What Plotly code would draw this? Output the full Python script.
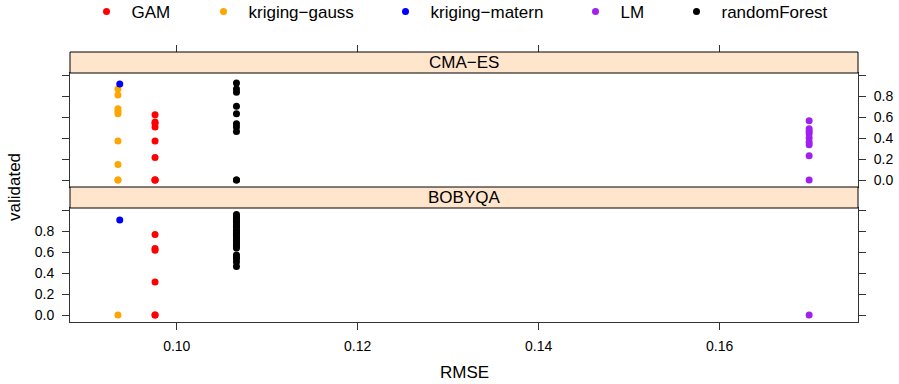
import plotly.graph_objects as go

# ---- data ----
methods = ["GAM", "kriging−gauss", "kriging−matern", "LM", "randomForest"]
colors = ["#FF0000", "#FFA500", "#0000FF", "#A020F0", "#000000"]
rmse = [0.0976, 0.0935, 0.0937, 0.1699, 0.1066]

# CMA-ES panel (validated values)
cma_gam = [0.623, 0.553, 0.543, 0.505, 0.373, 0.215, 0.0, 0.0, 0.0]
cma_kgauss = [0.869, 0.812, 0.680, 0.657, 0.632, 0.373, 0.149, 0.0, 0.0]
cma_kmatern = [0.916]
cma_lm = [0.566, 0.490, 0.465, 0.442, 0.401, 0.363, 0.338, 0.231, 0.0]
cma_rf = [0.926, 0.869, 0.837, 0.704, 0.632, 0.537, 0.505, 0.464, 0.0, 0.0]

# BOBYQA panel
bob_gam = [0.769, 0.636, 0.617, 0.315, 0.0, 0.0]
bob_kgauss = [0.0]
bob_kmatern = [0.907]
bob_lm = [0.0]
bob_rf = [0.959, 0.945, 0.93, 0.912, 0.895, 0.88, 0.862, 0.845, 0.83, 0.81,
          0.795, 0.78, 0.762, 0.745, 0.728, 0.71, 0.69, 0.672, 0.655, 0.64,
          0.574, 0.555, 0.536, 0.505, 0.463]

y_ticks = [0.0, 0.2, 0.4, 0.6, 0.8, 1.0]
y_ticktext = ["0.0", "0.2", "0.4", "0.6", "0.8", ""]
x_ticks = [0.10, 0.12, 0.14, 0.16]
x_ticktext = ["0.10", "0.12", "0.14", "0.16"]
panels = ["CMA−ES", "BOBYQA"]

cma = [cma_gam, cma_kgauss, cma_kmatern, cma_lm, cma_rf]
bob = [bob_gam, bob_kgauss, bob_kmatern, bob_lm, bob_rf]

# legend placement (pixel x of each key's symbol)
W, H = 899, 384
ML, MR, MT, MB = 70, 41, 52, 62
legend_px = [108, 225, 407, 597, 698]

fig = go.Figure()
FONT = "Liberation Sans, Arial, sans-serif"
legend_names = ["legend", "legend2", "legend3", "legend4", "legend5"]

for i, m in enumerate(methods):
    fig.add_trace(go.Scatter(
        x=[rmse[i]] * len(cma[i]), y=cma[i], mode="markers",
        marker=dict(color=colors[i], size=7), name=m, legendgroup=m,
        showlegend=True, legend=legend_names[i], xaxis="x2", yaxis="y2"))
    fig.add_trace(go.Scatter(
        x=[rmse[i]] * len(bob[i]), y=bob[i], mode="markers",
        marker=dict(color=colors[i], size=7), name=m, legendgroup=m,
        showlegend=False, xaxis="x", yaxis="y"))

xr = [0.0882, 0.1753]
yr = [-0.066, 1.021]
line_col = "#333333"
pw = W - ML - MR
ph = H - MT - MB

d_bot = [0.0, 114 / ph]
d_strip_bot = [114 / ph, 135 / ph]
d_top = [135 / ph, 249 / ph]
d_strip_top = [249 / ph, 1.0]

legend_y = (H - MB - 12) / ph
legends = {}
for i, ln in enumerate(legend_names):
    legends[ln] = dict(orientation="h", x=(legend_px[i] - 26.5 - ML) / pw, xanchor="left",
                       y=legend_y, yanchor="middle", font=dict(size=17),
                       itemsizing="trace", itemwidth=40,
                       bgcolor="rgba(0,0,0,0)", borderwidth=0)

fig.update_layout(
    width=W, height=H,
    margin=dict(l=ML, r=MR, t=MT, b=MB, autoexpand=False),
    plot_bgcolor="white", paper_bgcolor="white",
    font=dict(family=FONT, size=14, color="black"),
    showlegend=True,
    **legends,
    xaxis=dict(domain=[0, 1], range=xr, anchor="y", tickvals=x_ticks, ticktext=x_ticktext,
               ticks="outside", ticklen=7, tickcolor=line_col, showline=True, linecolor=line_col,
               mirror=True, showgrid=False, zeroline=False, tickfont=dict(size=14),
               ticklabelstandoff=4),
    yaxis=dict(domain=d_bot, range=yr, anchor="x", tickvals=y_ticks, ticktext=y_ticktext,
               ticks="outside", ticklen=7, tickcolor=line_col, showline=True, linecolor=line_col,
               mirror="ticks", showgrid=False, zeroline=False, side="left",
               tickfont=dict(size=14), ticklabelstandoff=5),
    xaxis2=dict(domain=[0, 1], range=xr, anchor="y2", matches="x", showticklabels=False,
                ticks="", showline=True, linecolor=line_col, mirror=True,
                showgrid=False, zeroline=False),
    yaxis2=dict(domain=d_top, range=yr, anchor="x2", tickvals=y_ticks, ticktext=y_ticktext,
                ticks="outside", ticklen=7, tickcolor=line_col, showline=True, linecolor=line_col,
                mirror="ticks", showgrid=False, zeroline=False, side="right",
                tickfont=dict(size=14), ticklabelstandoff=5),
    xaxis3=dict(domain=[0, 1], range=xr, overlaying="x2", anchor="free", position=1.0, side="top",
                tickvals=x_ticks, showticklabels=False, ticks="outside", ticklen=7,
                tickcolor=line_col, showline=False, showgrid=False, zeroline=False),
)

# invisible helper trace so the top tick axis is drawn
fig.add_trace(go.Scatter(x=[xr[0]], y=[yr[0]], xaxis="x3", yaxis="y2", mode="markers",
                         marker=dict(opacity=0), showlegend=False, hoverinfo="skip"))

# strips
for dom, label in [(d_strip_top, panels[0]), (d_strip_bot, panels[1])]:
    fig.add_shape(type="rect", xref="paper", yref="paper", x0=0, x1=1, y0=dom[0], y1=dom[1],
                  fillcolor="#FFE5CC", line=dict(color="black", width=1), layer="above")
    fig.add_annotation(xref="paper", yref="paper", x=0.5, y=(dom[0] + dom[1]) / 2,
                       text=label, showarrow=False, font=dict(size=17),
                       xanchor="center", yanchor="middle")

fig.add_annotation(xref="paper", yref="paper", x=(14 - ML) / pw, y=0.5, text="validated",
                   textangle=-90, showarrow=False, font=dict(size=17),
                   xanchor="center", yanchor="middle")
fig.add_annotation(xref="paper", yref="paper", x=0.5, y=(H - MB - 372) / ph, text="RMSE",
                   showarrow=False, font=dict(size=17), xanchor="center", yanchor="middle")

fig.write_html(
    "out.html",
    config={"displayModeBar": False},
    post_script="document.body.style.margin='0';document.body.style.overflow='hidden';",
)
